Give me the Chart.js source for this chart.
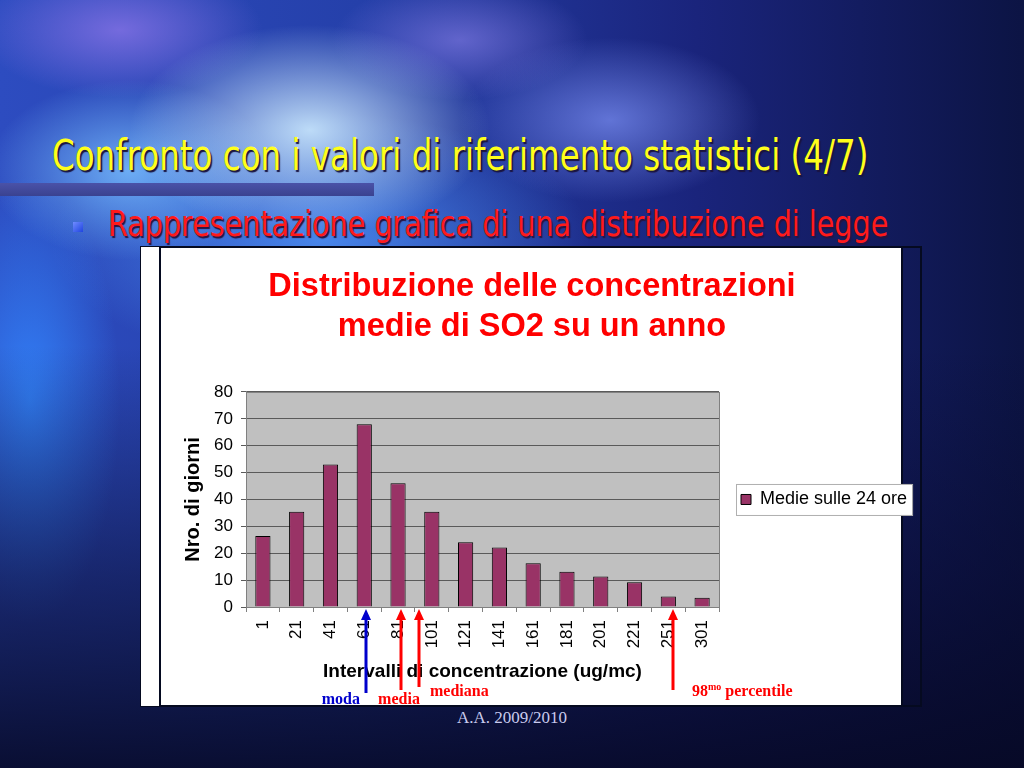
<!DOCTYPE html>
<html>
<head>
<meta charset="utf-8">
<script src="https://cdn.jsdelivr.net/npm/chart.js@4.4.0/dist/chart.umd.min.js"></script>
<style>
  html, body { margin: 0; padding: 0; }
  body {
    width: 1024px; height: 768px; overflow: hidden; position: relative;
    background:
      linear-gradient(180deg, rgba(8,10,45,0) 45%, rgba(8,10,45,0.55) 75%, rgba(6,8,36,0.9) 100%),
      radial-gradient(ellipse 240px 140px at 310px 130px, rgba(205,235,255,0.9), rgba(160,210,255,0) 75%),
      radial-gradient(ellipse 190px 120px at 130px 170px, rgba(120,190,255,0.85), rgba(120,190,255,0) 75%),
      radial-gradient(ellipse 190px 90px at 120px 30px, rgba(135,115,230,0.8), rgba(135,115,230,0) 75%),
      radial-gradient(ellipse 170px 80px at 460px 40px, rgba(140,130,235,0.6), rgba(140,130,235,0) 75%),
      radial-gradient(ellipse 200px 110px at 610px 120px, rgba(120,140,240,0.75), rgba(120,140,240,0) 75%),
      radial-gradient(ellipse 120px 300px at 30px 400px, rgba(50,130,250,0.95), rgba(50,130,250,0) 75%),
      radial-gradient(ellipse 360px 170px at 320px 240px, rgba(80,150,250,0.8), rgba(80,150,250,0) 75%),
      linear-gradient(90deg, #2d4cc0 0%, #2540aa 35%, #1a247c 68%, #0c1444 100%);
  }
  #title {
    position: absolute; left: 52px; top: 131px;
    font-family: "DejaVu Sans", sans-serif;
    font-size: 42px; color: #ffff1a; white-space: nowrap;
    text-shadow: 2px 2px 1px #1a1440;
    transform-origin: left top;
  }
  #band {
    position: absolute; left: 0; top: 183px; width: 374px; height: 13px;
    background: linear-gradient(180deg, #4a52a8, #3a4290);
  }
  #bullet {
    position: absolute; left: 73px; top: 222px; width: 10px; height: 10px;
    background: linear-gradient(135deg, #6f8cff, #1f44e0);
  }
  #sub {
    position: absolute; left: 108px; top: 203px;
    font-family: "DejaVu Sans", sans-serif;
    font-size: 36px; color: #ff1a1a; white-space: nowrap;
    text-shadow: 2px 2px 1px #2a1440;
    transform-origin: left top;
  }
  #frame {
    position: absolute; left: 140px; top: 246px; width: 782px; height: 461px;
    box-sizing: border-box; border: 2px solid #050a20;
  }
  #strip {
    position: absolute; left: 141px; top: 247px; width: 19px; height: 459px; background: #fff;
  }
  #panel {
    position: absolute; left: 159px; top: 246px; width: 744px; height: 461px;
    box-sizing: border-box; border: 2px solid #050a20; background: #fff;
  }
  #wrap { position: absolute; left: 142px; top: 247px; width: 780px; height: 460px; }
  #footer {
    position: absolute; left: 0; width: 1024px; top: 708px; text-align: center;
    font-family: "Liberation Serif", "DejaVu Serif", serif; font-size: 17px; color: #c9cbee;
  }
</style>
</head>
<body>
<div id="title">Confronto con i valori di riferimento statistici (4/7)</div>
<div id="band"></div>
<div id="bullet"></div>
<div id="sub">Rappresentazione grafica di una distribuzione di legge</div>
<div id="frame"></div>
<div id="strip"></div>
<div id="panel"></div>
<div id="wrap"><canvas id="chart" width="780" height="460"></canvas></div>
<div id="footer">A.A. 2009/2010</div>

<script>
// squeeze the slide headings to the width they take in the original
function fitWidth(id, w) {
  const el = document.getElementById(id);
  el.style.transform = 'scaleX(' + (w / el.scrollWidth) + ')';
}
fitWidth('title', 816);
fitWidth('sub', 780);

const categories = ['1', '21', '41', '61', '81', '101', '121', '141', '161', '181', '201', '221', '251', '301'];
const days = [26.4, 35.4, 53, 68, 46, 35.4, 24.1, 22.1, 16.3, 13.1, 11.3, 9.2, 3.9, 3.4];
const seriesName = 'Medie sulle 24 ore';

// statistics marked under the axis, placed in category-index units
const markerNames = ['moda', 'media', 'mediana', '98'];
const markerAt = [3.05, 4.1, 4.62, 12.15];

const FONT = '"Liberation Sans", Arial, sans-serif';
const LEGEND_W = 203;

const ctx = document.getElementById('chart');

const plotBack = {
  id: 'plotBack',
  beforeLayout(chart) {
    // give the legend a fixed column, like the original layout
    const lg = chart.legend;
    if (lg && !lg._fixed) {
      const fit = lg.fit;
      lg.fit = function () { fit.call(this); this.width = LEGEND_W; };
      lg._fixed = true;
    }
  },
  beforeDraw(chart) {
    const c = chart.ctx;
    const a = chart.chartArea;
    c.save();
    c.fillStyle = '#c0c0c0';
    c.fillRect(a.left, a.top, a.width, a.height);
    c.strokeStyle = '#808080';
    c.lineWidth = 1;
    c.strokeRect(a.left + 0.5, a.top + 0.5, a.width, a.height);

    const hb = chart.legend.legendHitBoxes[0];
    if (hb) {
      const cy = hb.top + hb.height / 2;
      c.fillStyle = '#fff';
      c.fillRect(hb.left - 5, cy - 15.5, hb.width + 10, 31);
      c.strokeStyle = '#b0b0b0';
      c.strokeRect(hb.left - 5 + 0.5, cy - 15.5 + 0.5, hb.width + 10, 31);
    }
    c.restore();
  }
};

const markers = {
  id: 'markers',
  afterDraw(chart) {
    const c = chart.ctx;
    const x = chart.scales.x;
    const base = chart.chartArea.bottom;
    const look = [
      { color: '#0000cc', len: 86, ty: 97, align: 'right', dx: -6 },
      { color: '#ff0000', len: 83, ty: 97, align: 'center', dx: -2 },
      { color: '#ff0000', len: 80, ty: 89, align: 'left', dx: 11 },
      { color: '#ff0000', len: 83, ty: 89, align: 'left', dx: 19 }
    ];
    c.save();
    markerNames.forEach((name, i) => {
      const s = look[i];
      const px = Math.round(x.getPixelForValue(markerAt[i]));
      c.strokeStyle = s.color;
      c.fillStyle = s.color;
      c.lineWidth = 3;
      c.beginPath();
      c.moveTo(px, base + 10);
      c.lineTo(px, base + s.len);
      c.stroke();
      c.beginPath();
      c.moveTo(px, base + 2);
      c.lineTo(px - 5, base + 13);
      c.lineTo(px + 5, base + 13);
      c.closePath();
      c.fill();

      c.font = 'bold 16px "Liberation Serif", "Times New Roman", serif';
      c.textBaseline = 'alphabetic';
      const ty = base + s.ty;
      if (name === '98') {
        c.textAlign = 'left';
        let tx = px + s.dx;
        c.fillText('98', tx, ty);
        tx += c.measureText('98').width;
        c.font = 'bold 10px "Liberation Serif", "Times New Roman", serif';
        c.fillText('mo', tx, ty - 6);
        tx += c.measureText('mo').width + 4;
        c.font = 'bold 16px "Liberation Serif", "Times New Roman", serif';
        c.fillText('percentile', tx, ty);
      } else {
        c.textAlign = s.align;
        c.fillText(name, px + s.dx, ty);
      }
    });
    c.restore();
  }
};

let soChart = new Chart(ctx, {
  type: 'bar',
  data: {
    labels: categories,
    datasets: [
      {
        label: seriesName,
        data: days,
        backgroundColor: '#993366',
        borderColor: '#000000',
        borderWidth: 1,
        barPercentage: 0.45,
        categoryPercentage: 1
      }
    ]
  },
  options: {
    responsive: false,
    animation: false,
    layout: { padding: { left: 0, right: 0, top: 0, bottom: 24 } },
    plugins: {
      title: {
        display: true,
        text: ['Distribuzione delle concentrazioni', 'medie di SO2 su un anno'],
        color: '#ff0000',
        font: { family: FONT, size: 32.5, weight: 'bold', lineHeight: 1.23 },
        padding: { top: 20, bottom: 45 }
      },
      legend: {
        position: 'right',
        fullSize: false,
        labels: {
          color: '#000',
          font: { family: FONT, size: 18 },
          boxWidth: 10,
          boxHeight: 10,
          padding: 22
        }
      },
      tooltip: { enabled: false }
    },
    scales: {
      x: {
        grid: { drawOnChartArea: false, tickLength: 5, color: '#808080' },
        border: { color: '#808080' },
        ticks: {
          autoSkip: false, minRotation: 90, maxRotation: 90, padding: 8,
          color: '#000', font: { family: FONT, size: 17 }
        },
        title: {
          display: true,
          text: 'Intervalli di concentrazione (ug/mc)',
          color: '#000',
          font: { family: FONT, size: 19, weight: 'bold' },
          padding: { top: 0, bottom: 0 }
        },
        afterFit(s) { s.height = 76; }
      },
      y: {
        min: 0,
        max: 80,
        ticks: { stepSize: 10, padding: 8, color: '#000', font: { family: FONT, size: 17 } },
        grid: { color: '#5a5a5a', tickLength: 5 },
        border: { color: '#808080' },
        title: {
          display: true,
          text: 'Nro. di giorni',
          color: '#000',
          font: { family: FONT, size: 20, weight: 'bold' },
          padding: { top: 39, bottom: 0 }
        },
        afterFit(s) { s.width = 104; }
      }
    }
  },
  plugins: [plotBack, markers]
});
</script>
</body>
</html>
